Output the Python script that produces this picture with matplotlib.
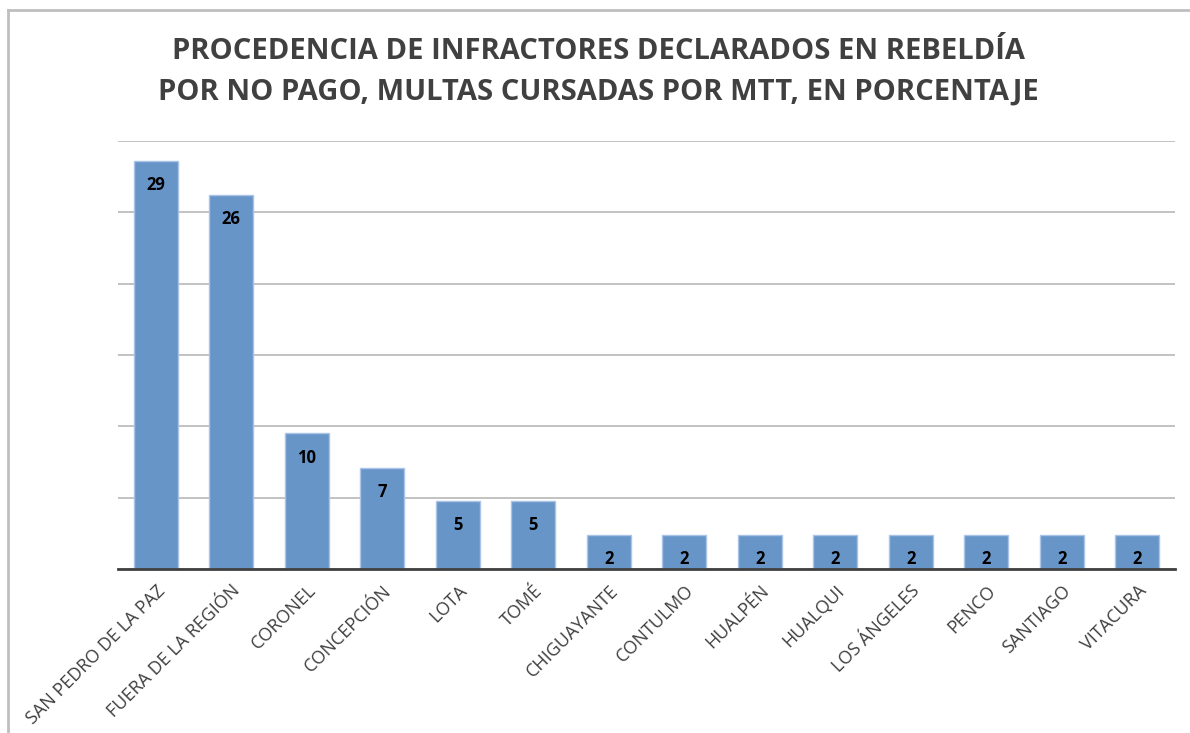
import matplotlib
matplotlib.use("Agg")
import matplotlib.pyplot as plt

categories = ["SAN PEDRO DE LA PAZ", "FUERA DE LA REGIÓN", "CORONEL", "CONCEPCIÓN",
              "LOTA", "TOMÉ", "CHIGUAYANTE", "CONTULMO", "HUALPÉN", "HUALQUI",
              "LOS ÁNGELES", "PENCO", "SANTIAGO", "VITACURA"]
values = [28.6, 26.2, 9.5, 7.1, 4.8, 4.8, 2.4, 2.4, 2.4, 2.4, 2.4, 2.4, 2.4, 2.4]
title = "PROCEDENCIA DE INFRACTORES DECLARADOS EN REBELDÍA\nPOR NO PAGO, MULTAS CURSADAS POR MTT, EN PORCENTAJE"

plt.rcParams['font.family'] = ['Open Sans', 'DejaVu Sans']

fig = plt.figure(figsize=(11.9, 7.33), dpi=100)
fig.patch.set_facecolor('white')

# outer chart border (partially visible)
fig.add_artist(plt.Line2D([8/1190, 8/1190], [0, 1 - 10/733], color='#BFBFBF', lw=2, transform=fig.transFigure))
fig.add_artist(plt.Line2D([8/1190, 1], [1 - 10/733, 1 - 10/733], color='#BFBFBF', lw=2, transform=fig.transFigure))

ax = fig.add_axes([118/1190, 1 - 569/733, (1175 - 118)/1190, (569 - 141)/733])
x = list(range(len(categories)))
ax.bar(x, values, width=0.58, color='#6795C8', edgecolor='#A9C4E6', linewidth=1.0, zorder=3)

ax.set_xlim(-0.5, len(categories) - 0.5)
ax.set_ylim(0, 30)
ax.set_yticks([0, 5, 10, 15, 20, 25, 30])
ax.yaxis.grid(True, color='#BDBDBD', linewidth=1.3, zorder=0)
ax.tick_params(axis='y', length=0, labelleft=False)
ax.tick_params(axis='x', length=0, pad=9)
for s in ['top', 'right', 'left']:
    ax.spines[s].set_visible(False)
ax.spines['bottom'].set_color('#404040')
ax.spines['bottom'].set_linewidth(2)
ax.spines['bottom'].set_zorder(4)

ax.set_xticks(x)
ax.set_xticklabels(categories, rotation=45, ha='right', va='top', rotation_mode='anchor',
                   fontsize=13, color='#404040')

for xi, v in zip(x, values):
    ax.annotate(f"{v:.0f}", (xi, v), xytext=(0, -11), textcoords='offset points',
                ha='center', va='top', fontsize=12, fontweight='bold', color='black', zorder=5)

fig.text(0.503, 1 - 71.75/733, title, ha='center', va='center', fontsize=21,
         fontweight='bold', color='#404040', linespacing=1.5)

fig.savefig('out.png', dpi=100)
